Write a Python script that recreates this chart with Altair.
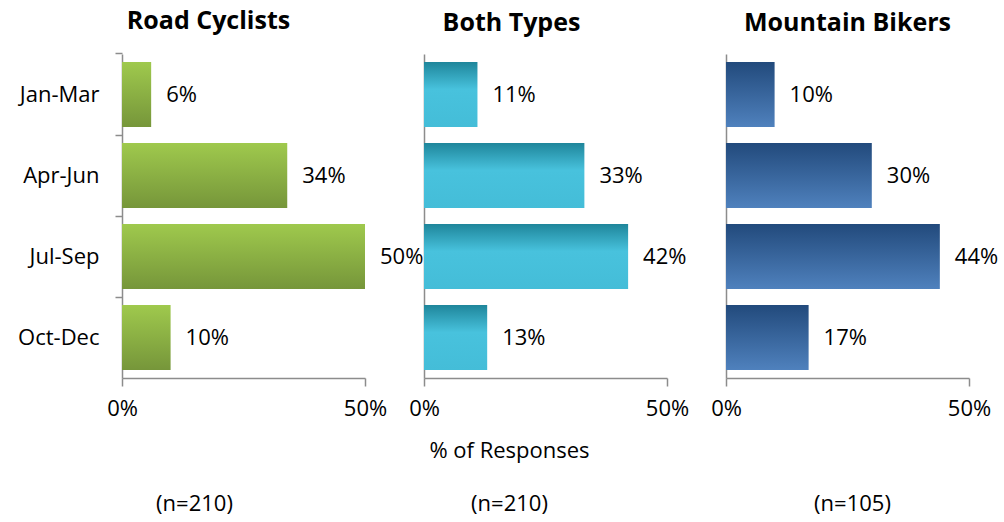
import altair as alt
import pandas as pd

periods = ["Jan-Mar", "Apr-Jun", "Jul-Sep", "Oct-Dec"]
road = [6, 34, 50, 10]
both = [11, 33, 42, 13]
mountain = [10, 30, 44, 17]

panel_titles = ["Road Cyclists", "Both Types", "Mountain Bikers"]
sample_sizes = ["(n=210)", "(n=210)", "(n=105)"]
x_title = "% of Responses"
x_ticks = [0, 50]

FONT = "Open Sans"
AXIS_GRAY = "#8c8c8c"


def grad(stops):
    return alt.Gradient(
        gradient="linear",
        stops=[alt.GradientStop(color=c, offset=o) for o, c in stops],
        x1=0, x2=0, y1=0, y2=1,
    )


green = grad([(0, "#9fc94d"), (1, "#76963a")])
cyan = grad([(0, "#1f869b"), (0.42, "#48c2dd"), (1, "#44bdd8")])
blue = grad([(0, "#224a7c"), (1, "#4f81bd")])


def panel(values, title, fill, idx):
    df = pd.DataFrame({"period": periods, "value": values})
    df["label"] = [f"{v}%" for v in values]

    if idx == 0:
        yaxis = alt.Axis(
            title=None, labelFont=FONT, labelFontSize=22, labelColor="#000000",
            labelPadding=16, tickSize=7, tickColor=AXIS_GRAY, tickWidth=1.5,
            bandPosition=-0.125, domainColor=AXIS_GRAY, domainWidth=1.5,
        )
    else:
        yaxis = alt.Axis(
            title=None, labels=False, ticks=False,
            domainColor=AXIS_GRAY, domainWidth=1.5,
        )

    if idx == 1:
        xt = [x_title, sample_sizes[idx]]
        tx = 85
    elif idx == 0:
        xt = sample_sizes[idx]
        tx = 72
    else:
        xt = sample_sizes[idx]
        tx = 126
    ty = 62 if idx == 1 else 115

    xaxis = alt.Axis(
        values=x_ticks, labelExpr="datum.value + '%'", grid=False,
        labelFont=FONT, labelFontSize=22, labelColor="#000000", labelFlush=False,
        labelPadding=12, tickSize=8, tickColor=AXIS_GRAY, tickWidth=1.5,
        domainColor=AXIS_GRAY, domainWidth=1.5,
        title=xt, titleFont=FONT, titleFontSize=22, titleFontWeight="normal",
        titleColor="#000000", titleX=tx, titleY=ty, titleAlign="center",
        titleBaseline="top", titleLineHeight=53,
    )

    base = alt.Chart(df).encode(
        y=alt.Y("period:N", sort=periods,
                scale=alt.Scale(paddingInner=0.2, paddingOuter=0.1), axis=yaxis),
        x=alt.X("value:Q", scale=alt.Scale(domain=[0, 50], nice=False), axis=xaxis),
    )
    bars = base.mark_bar(color=fill)
    labels = base.mark_text(align="left", baseline="middle", dx=15,
                            font=FONT, fontSize=22, color="#000000").encode(text="label:N")
    dxs = [-35, -34, 0]
    return alt.layer(bars, labels).properties(
        width=243, height=324,
        title=alt.TitleParams(text=title, font=FONT, fontSize=25, fontWeight="bold",
                              color="#000000", anchor="middle", dx=dxs[idx], offset=18),
    )


chart = alt.hconcat(
    panel(road, panel_titles[0], green, 0),
    panel(both, panel_titles[1], cyan, 1),
    panel(mountain, panel_titles[2], blue, 2),
    spacing=59, bounds="flush",
).properties(
    padding={"left": 17, "top": 9, "right": 5, "bottom": 5},
    background="white",
).configure_view(stroke=None)

chart.save("out.html", embed_options={"renderer": "svg", "actions": False})
